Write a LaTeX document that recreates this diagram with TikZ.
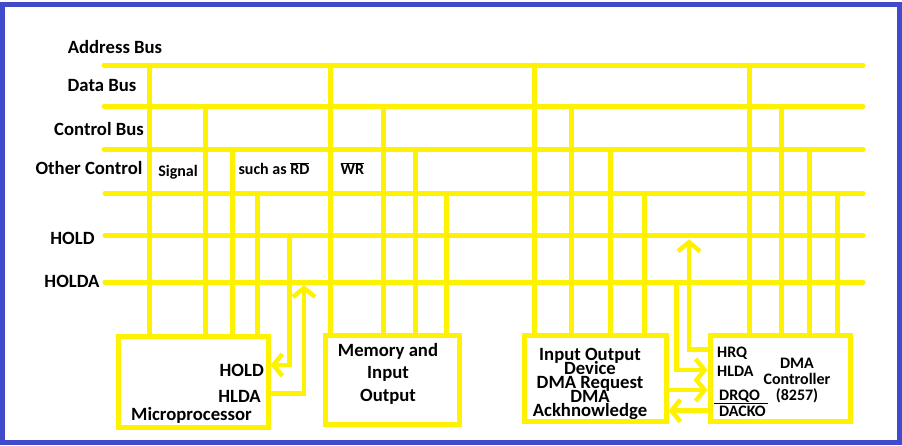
\documentclass[tikz,border=0pt]{standalone}
\usepackage{fontspec}
\setmainfont{Carlito}
\usetikzlibrary{arrows.meta}

\definecolor{busyellow}{RGB}{255,242,0}
\definecolor{frameblue}{RGB}{66,74,204}
\newcommand{\ovl}[1]{$\overline{\mbox{#1}}$}
\newcommand{\tightlines}{\lineskiplimit=-20pt\relax}

\begin{document}
\begin{tikzpicture}[
    x=1pt, y=-1pt,
    bus/.style={draw=busyellow, line width=5pt, line cap=round},
    sigline/.style={draw=busyellow, line width=4.5pt, line cap=round, -{Straight Barb[length=9pt, width=22pt]}},
    unit/.style={draw=busyellow, line width=5pt, inner sep=0pt},
    buslabel/.style={font=\fontsize{18.7}{20}\selectfont\bfseries, inner sep=0pt},
    pinlabel/.style={font=\fontsize{16}{16}\selectfont\bfseries, inner sep=0pt, anchor=base west},
    note/.style={font=\fontsize{16}{18}\selectfont\bfseries, inner sep=0pt, anchor=base}
]

    % Canvas and frame
    \fill[white] (0,0) rectangle (902,445);
    \useasboundingbox (0,0) rectangle (902,445);
    \draw[frameblue, line width=5pt] (2.5,4.5) rectangle (899.5,442);

    % Bus labels
    \node[buslabel] (addrtxt) at (115,47) {Address Bus};
    \node[buslabel] (datatxt) at (102,86) {Data Bus};
    \node[buslabel] (ctrltxt) at (99,129) {Control Bus};
    \node[buslabel] (othertxt) at (89,168) {Other Control};
    \node[buslabel] (holdtxt) at (72.5,238) {HOLD};
    \node[buslabel] (holdatxt) at (72,281.3) {HOLDA};

    \node[note] (sigtxt) at (178,176) {Signal};
    \node[note] (rdtxt) at (274,174.5) {such as \ovl{RD}};
    \node[note] (wrtxt) at (352.3,174.5) {\ovl{WR}};

    % Buses
    \coordinate (addr-l) at (104,65);    \coordinate (addr-r) at (863,65);
    \coordinate (data-l) at (104,106.5); \coordinate (data-r) at (863,106.5);
    \coordinate (ctrl-l) at (104,149.3); \coordinate (ctrl-r) at (863,149.3);
    \coordinate (other-l) at (105,193.3); \coordinate (other-r) at (863,193.3);
    \coordinate (hold-l) at (105,235.3); \coordinate (hold-r) at (863,235.3);
    \coordinate (holda-l) at (105,282);  \coordinate (holda-r) at (863,282);
    \foreach \name in {addr, data, ctrl, other, hold, holda}
        \draw[bus] (\name-l) -- (\name-r);

    % Microprocessor
    \node[buslabel, anchor=base] (mptxt) at (191.5,420) {Microprocessor};
    \node[buslabel, anchor=base east] (mphold) at (264,376.7) {HOLD};
    \node[buslabel, anchor=base east] (mphlda) at (261,402.7) {HLDA};
    \node[unit, minimum width=150pt, minimum height=90.5pt] (mp) at (193,381.8) {};

    % Memory and I/O
    \node[buslabel, anchor=base, align=center, font=\fontsize{18.7}{22.8}\selectfont\bfseries] (memtxt) at (388,401.7) {Memory and\\Input\\Output};
    \node[unit, minimum width=134.5pt, minimum height=89.3pt] (mem) at (392.7,380.3) {};

    % Input output device
    \node[buslabel, anchor=base, align=center, font=\fontsize{18.7}{14}\selectfont\bfseries\tightlines] (iotxt) at (590,416) {Input Output\\Device\\DMA Request\\DMA\\Ackhnowledge};
    \node[unit, minimum width=142pt, minimum height=86pt] (io) at (595,378) {};

    % DMA controller
    \node[pinlabel] (hrq) at (717,357.3) {HRQ};
    \node[pinlabel] (hlda) at (717,376) {HLDA};
    \node[pinlabel] (drqo) at (719,400) {DRQO};
    \node[pinlabel] (dacko) at (719,416.7) {DACKO};
    \draw[line width=1pt] ([xshift=-5pt, yshift=2.4pt]dacko.north west) -- ([xshift=2pt, yshift=2.4pt]dacko.north east);
    \node[note, align=center, font=\fontsize{16}{16}\selectfont\bfseries] (dmatxt) at (797,400) {DMA\\Controller\\(8257)};
    \node[unit, minimum width=140pt, minimum height=86pt] (dma) at (780,378) {};

    % Bus taps
    \foreach \x/\name/\unit in {149.3/addr/mp, 205.7/data/mp, 232.3/ctrl/mp, 257.3/other/mp,
                                330.7/addr/mem, 383.3/data/mem, 415/ctrl/mem, 446.7/other/mem,
                                534.3/addr/io, 571.3/data/io, 610.3/ctrl/io, 644.3/other/io,
                                749.3/addr/dma, 781.3/data/dma, 809.3/ctrl/dma, 837.3/other/dma}
        \draw[bus] (\x,0 |- \name-l) -- (\x,0 |- \unit.north);

    % Hold handshake
    \draw[sigline] (289.3,0 |- hold-l) |- (mp.east |- 0,365);
    \draw[sigline, shorten >=3pt] (mp.east |- 0,393.3) -| (304,0 |- holda-l);
    \draw[sigline, shorten >=4pt] (dma.west |- 0,349.3) -| (689,0 |- hold-l);
    \draw[sigline] (676.7,0 |- holda-l) |- (dma.west |- 0,370);

    % DMA request and acknowledge
    \draw[sigline] (io.east |- 0,390) -- (dma.west |- 0,390);
    \draw[sigline] (dma.west |- 0,410.7) -- (io.east |- 0,410.7);

\end{tikzpicture}
\end{document}
